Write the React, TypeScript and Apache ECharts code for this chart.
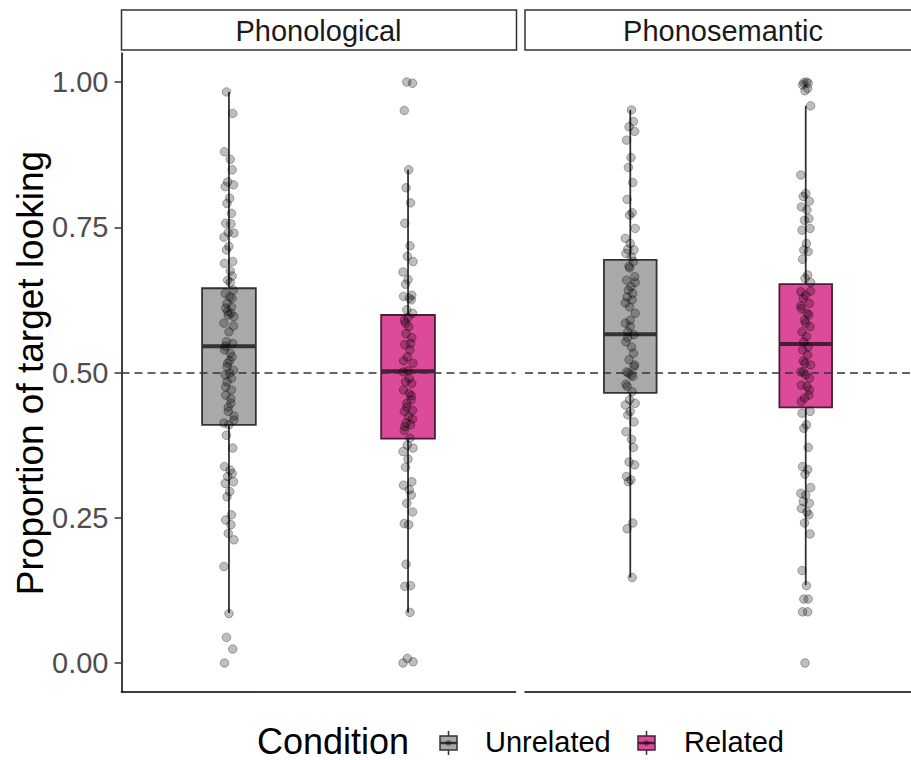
import React, { useEffect, useRef } from 'react';
import * as echarts from 'echarts';

const FACETS = ['Phonological', 'Phonosemantic'];
const CONDITIONS = ['Unrelated', 'Related'];
const Y_TICKS = [0, 0.25, 0.5, 0.75, 1];
const CHANCE = 0.5;

// [lower whisker, Q1, median, Q3, upper whisker]
const BOX_PHON_UNREL = [0.086, 0.41, 0.545, 0.645, 0.983];
const BOX_PHON_REL = [0.087, 0.386, 0.502, 0.599, 0.849];
const BOX_SEM_UNREL = [0.147, 0.465, 0.566, 0.694, 0.952];
const BOX_SEM_REL = [0.134, 0.44, 0.549, 0.652, 0.959];

const PTS_PHON_UNREL = [0.983, 0.946, 0.88, 0.867, 0.849, 0.828, 0.823, 0.82, 0.8, 0.791, 0.774, 0.757, 0.756, 0.741, 0.74, 0.733, 0.717, 0.711, 0.691, 0.688, 0.675, 0.666, 0.659, 0.642, 0.636, 0.63, 0.619, 0.613, 0.611, 0.602, 0.599, 0.596, 0.585, 0.57, 0.553, 0.55, 0.539, 0.533, 0.527, 0.516, 0.504, 0.496, 0.499, 0.484, 0.47, 0.461, 0.447, 0.433, 0.418, 0.413, 0.41, 0.392, 0.37, 0.338, 0.332, 0.326, 0.321, 0.312, 0.309, 0.295, 0.286, 0.255, 0.246, 0.238, 0.223, 0.212, 0.166, 0.085, 0.044, 0.024, 0.0, 0.655, 0.628, 0.605, 0.58, 0.545, 0.52, 0.51, 0.49, 0.475, 0.455, 0.44, 0.425];
const PTS_PHON_REL = [1.0, 0.998, 0.951, 0.849, 0.818, 0.792, 0.757, 0.718, 0.7, 0.691, 0.673, 0.66, 0.652, 0.633, 0.631, 0.628, 0.625, 0.608, 0.602, 0.59, 0.579, 0.567, 0.55, 0.548, 0.539, 0.527, 0.516, 0.501, 0.503, 0.484, 0.481, 0.47, 0.464, 0.453, 0.447, 0.435, 0.433, 0.424, 0.413, 0.41, 0.407, 0.387, 0.375, 0.37, 0.364, 0.351, 0.337, 0.312, 0.306, 0.298, 0.289, 0.275, 0.26, 0.24, 0.238, 0.17, 0.133, 0.132, 0.087, 0.008, 0.002, 0.0, 0.595, 0.585, 0.56, 0.52, 0.49, 0.46, 0.44, 0.42, 0.4];
const PTS_SEM_UNREL = [0.952, 0.932, 0.923, 0.915, 0.9, 0.87, 0.853, 0.827, 0.798, 0.775, 0.771, 0.748, 0.731, 0.722, 0.712, 0.711, 0.705, 0.699, 0.691, 0.683, 0.665, 0.659, 0.648, 0.642, 0.636, 0.63, 0.625, 0.613, 0.602, 0.585, 0.579, 0.57, 0.565, 0.553, 0.544, 0.533, 0.522, 0.513, 0.501, 0.496, 0.499, 0.493, 0.476, 0.467, 0.453, 0.447, 0.444, 0.433, 0.427, 0.415, 0.398, 0.385, 0.371, 0.346, 0.341, 0.321, 0.315, 0.312, 0.241, 0.231, 0.147, 0.68, 0.655, 0.62, 0.59, 0.56, 0.51, 0.48];
const PTS_SEM_REL = [1.0, 0.999, 0.998, 0.995, 0.989, 0.985, 0.959, 0.84, 0.808, 0.803, 0.795, 0.785, 0.78, 0.765, 0.762, 0.748, 0.745, 0.722, 0.711, 0.708, 0.695, 0.668, 0.662, 0.655, 0.639, 0.633, 0.628, 0.619, 0.61, 0.602, 0.599, 0.59, 0.579, 0.57, 0.562, 0.553, 0.544, 0.539, 0.53, 0.516, 0.513, 0.501, 0.496, 0.501, 0.49, 0.478, 0.476, 0.461, 0.456, 0.433, 0.43, 0.41, 0.404, 0.371, 0.338, 0.333, 0.325, 0.302, 0.292, 0.289, 0.278, 0.275, 0.266, 0.26, 0.255, 0.241, 0.222, 0.159, 0.133, 0.11, 0.11, 0.088, 0.088, 0.0, 0.64, 0.615, 0.585, 0.52, 0.47, 0.45];

// horizontal jitter offsets (x-axis units), cycled
const JITTER = [-0.014, 0.021, -0.025, 0.007, 0.018, -0.007, 0.025, -0.021, 0.004, -0.011, 0.014, -0.018, 0.011, -0.004, 0.028, -0.028, 0];

const FILLS = ['#a9a9a9', '#dc4a99'];
const STROKES = ['#333333', '#4a1d3a'];
const FONT = '"Liberation Sans", Arial, Helvetica, sans-serif';

const PANELS = [
  { boxes: [BOX_PHON_UNREL, BOX_PHON_REL], pts: [PTS_PHON_UNREL, PTS_PHON_REL] },
  { boxes: [BOX_SEM_UNREL, BOX_SEM_REL], pts: [PTS_SEM_UNREL, PTS_SEM_REL] },
];

const GRIDS = [
  { left: 121.5, top: 53, width: 394, height: 639 },
  { left: 525, top: 53, width: 396, height: 639 },
];

export default function App() {
  const ref = useRef<HTMLDivElement>(null);
  useEffect(() => {
    if (!ref.current) return;
    const chart = echarts.init(ref.current, null, { renderer: 'svg' });

    const xAxis = GRIDS.map((_, i) => ({
      type: 'value', gridIndex: i, min: 0.4, max: 2.6,
      axisLine: { show: true, onZero: false, lineStyle: { color: '#000', width: 1.5 } },
      axisTick: { show: false }, axisLabel: { show: false }, splitLine: { show: false },
    }));
    const yAxis = GRIDS.map((_, i) => ({
      type: 'value', gridIndex: i, min: -0.05, max: 1.05, show: i === 0,
      axisLine: { show: true, onZero: false, lineStyle: { color: '#000', width: 1.5 } },
      axisTick: { show: true, length: 7, customValues: Y_TICKS, lineStyle: { color: '#333', width: 1.5 } },
      axisLabel: {
        customValues: Y_TICKS, formatter: (v: number) => v.toFixed(2),
        fontSize: 29, color: '#4d4d4d', fontFamily: FONT, margin: 13,
      },
      splitLine: { show: false },
    }));

    const series: any[] = [];
    PANELS.forEach((p, pi) => {
      series.push({
        type: 'custom', xAxisIndex: pi, yAxisIndex: pi, z: 2,
        encode: { x: 0, y: [1, 2, 3, 4, 5] },
        data: p.boxes.map((b, ci) => [ci + 1, ...b, ci]),
        renderItem: (params: any, api: any) => {
          const x = api.value(0);
          const ci = api.value(6);
          const lo = api.coord([x, api.value(1)]);
          const q1 = api.coord([x, api.value(2)]);
          const md = api.coord([x, api.value(3)]);
          const q3 = api.coord([x, api.value(4)]);
          const hi = api.coord([x, api.value(5)]);
          const left = api.coord([x - 0.15, api.value(3)])[0];
          const right = api.coord([x + 0.15, api.value(3)])[0];
          const stroke = STROKES[ci];
          return {
            type: 'group',
            children: [
              { type: 'line', shape: { x1: hi[0], y1: hi[1], x2: q3[0], y2: q3[1] }, style: { stroke: '#333', lineWidth: 1.8 } },
              { type: 'line', shape: { x1: lo[0], y1: lo[1], x2: q1[0], y2: q1[1] }, style: { stroke: '#333', lineWidth: 1.8 } },
              { type: 'rect', shape: { x: left, y: q3[1], width: right - left, height: q1[1] - q3[1] }, style: { fill: FILLS[ci], stroke, lineWidth: 1.8 } },
              { type: 'line', shape: { x1: left, y1: md[1], x2: right, y2: md[1] }, style: { stroke, lineWidth: 4 } },
            ],
          };
        },
      });
      p.pts.forEach((arr, ci) => {
        series.push({
          type: 'scatter', xAxisIndex: pi, yAxisIndex: pi, z: 3,
          symbolSize: 8.5,
          itemStyle: { color: 'rgba(0,0,0,0.32)', borderColor: 'rgba(0,0,0,0.38)', borderWidth: 1 },
          data: arr.map((v, k) => [ci + 1 + JITTER[(k + ci * 5 + pi * 3) % JITTER.length], v]),
          markLine: ci === 0 ? {
            silent: true, symbol: 'none', label: { show: false }, z: 4,
            lineStyle: { type: [8, 5], color: '#333', width: 1.5 },
            data: [{ yAxis: CHANCE }],
          } : undefined,
        });
      });
    });

    const graphic: any[] = [];
    FACETS.forEach((f, i) => {
      const g = GRIDS[i];
      graphic.push({ type: 'rect', shape: { x: g.left, y: 10, width: g.width + 1, height: 40 }, style: { fill: '#fff', stroke: '#333', lineWidth: 1.5 } });
      graphic.push({ type: 'text', x: g.left + g.width / 2, y: 31, style: { text: f, font: `29px ${FONT}`, fill: '#1a1a1a', align: 'center', verticalAlign: 'middle', textAlign: 'center', textVerticalAlign: 'middle' } });
    });
    graphic.push({ type: 'text', x: 30, y: 373, rotation: Math.PI / 2, style: { text: 'Proportion of target looking', font: `37px ${FONT}`, fill: '#000', align: 'center', verticalAlign: 'middle', textAlign: 'center', textVerticalAlign: 'middle' } });

    // legend
    graphic.push({ type: 'text', x: 257, y: 741, style: { text: 'Condition', font: `36px ${FONT}`, fill: '#000', align: 'left', verticalAlign: 'middle', textAlign: 'left', textVerticalAlign: 'middle' } });
    const keyX = [440, 638];
    const labX = [485, 684];
    CONDITIONS.forEach((c, i) => {
      const kx = keyX[i];
      const cx = kx + 8.5;
      graphic.push({ type: 'line', shape: { x1: cx, y1: 731, x2: cx, y2: 755 }, style: { stroke: '#333', lineWidth: 1.5 } });
      graphic.push({ type: 'rect', shape: { x: kx, y: 736, width: 17, height: 14 }, style: { fill: FILLS[i], stroke: STROKES[i], lineWidth: 1.5 } });
      graphic.push({ type: 'line', shape: { x1: kx, y1: 743, x2: kx + 17, y2: 743 }, style: { stroke: STROKES[i], lineWidth: 2.5 } });
      graphic.push({ type: 'circle', shape: { cx, cy: 743, r: 3 }, style: { fill: 'rgba(0,0,0,0.35)' } });
      graphic.push({ type: 'text', x: labX[i], y: 742, style: { text: c, font: `29px ${FONT}`, fill: '#000', align: 'left', verticalAlign: 'middle', textAlign: 'left', textVerticalAlign: 'middle' } });
    });

    chart.setOption({
      animation: false,
      backgroundColor: '#fff',
      grid: GRIDS.map((g) => ({ ...g, containLabel: false })),
      xAxis, yAxis, series, graphic,
    });
    return () => chart.dispose();
  }, []);
  return <div ref={ref} style={{ position: 'fixed', left: 0, top: 0, width: 911, height: 760 }} />;
}
